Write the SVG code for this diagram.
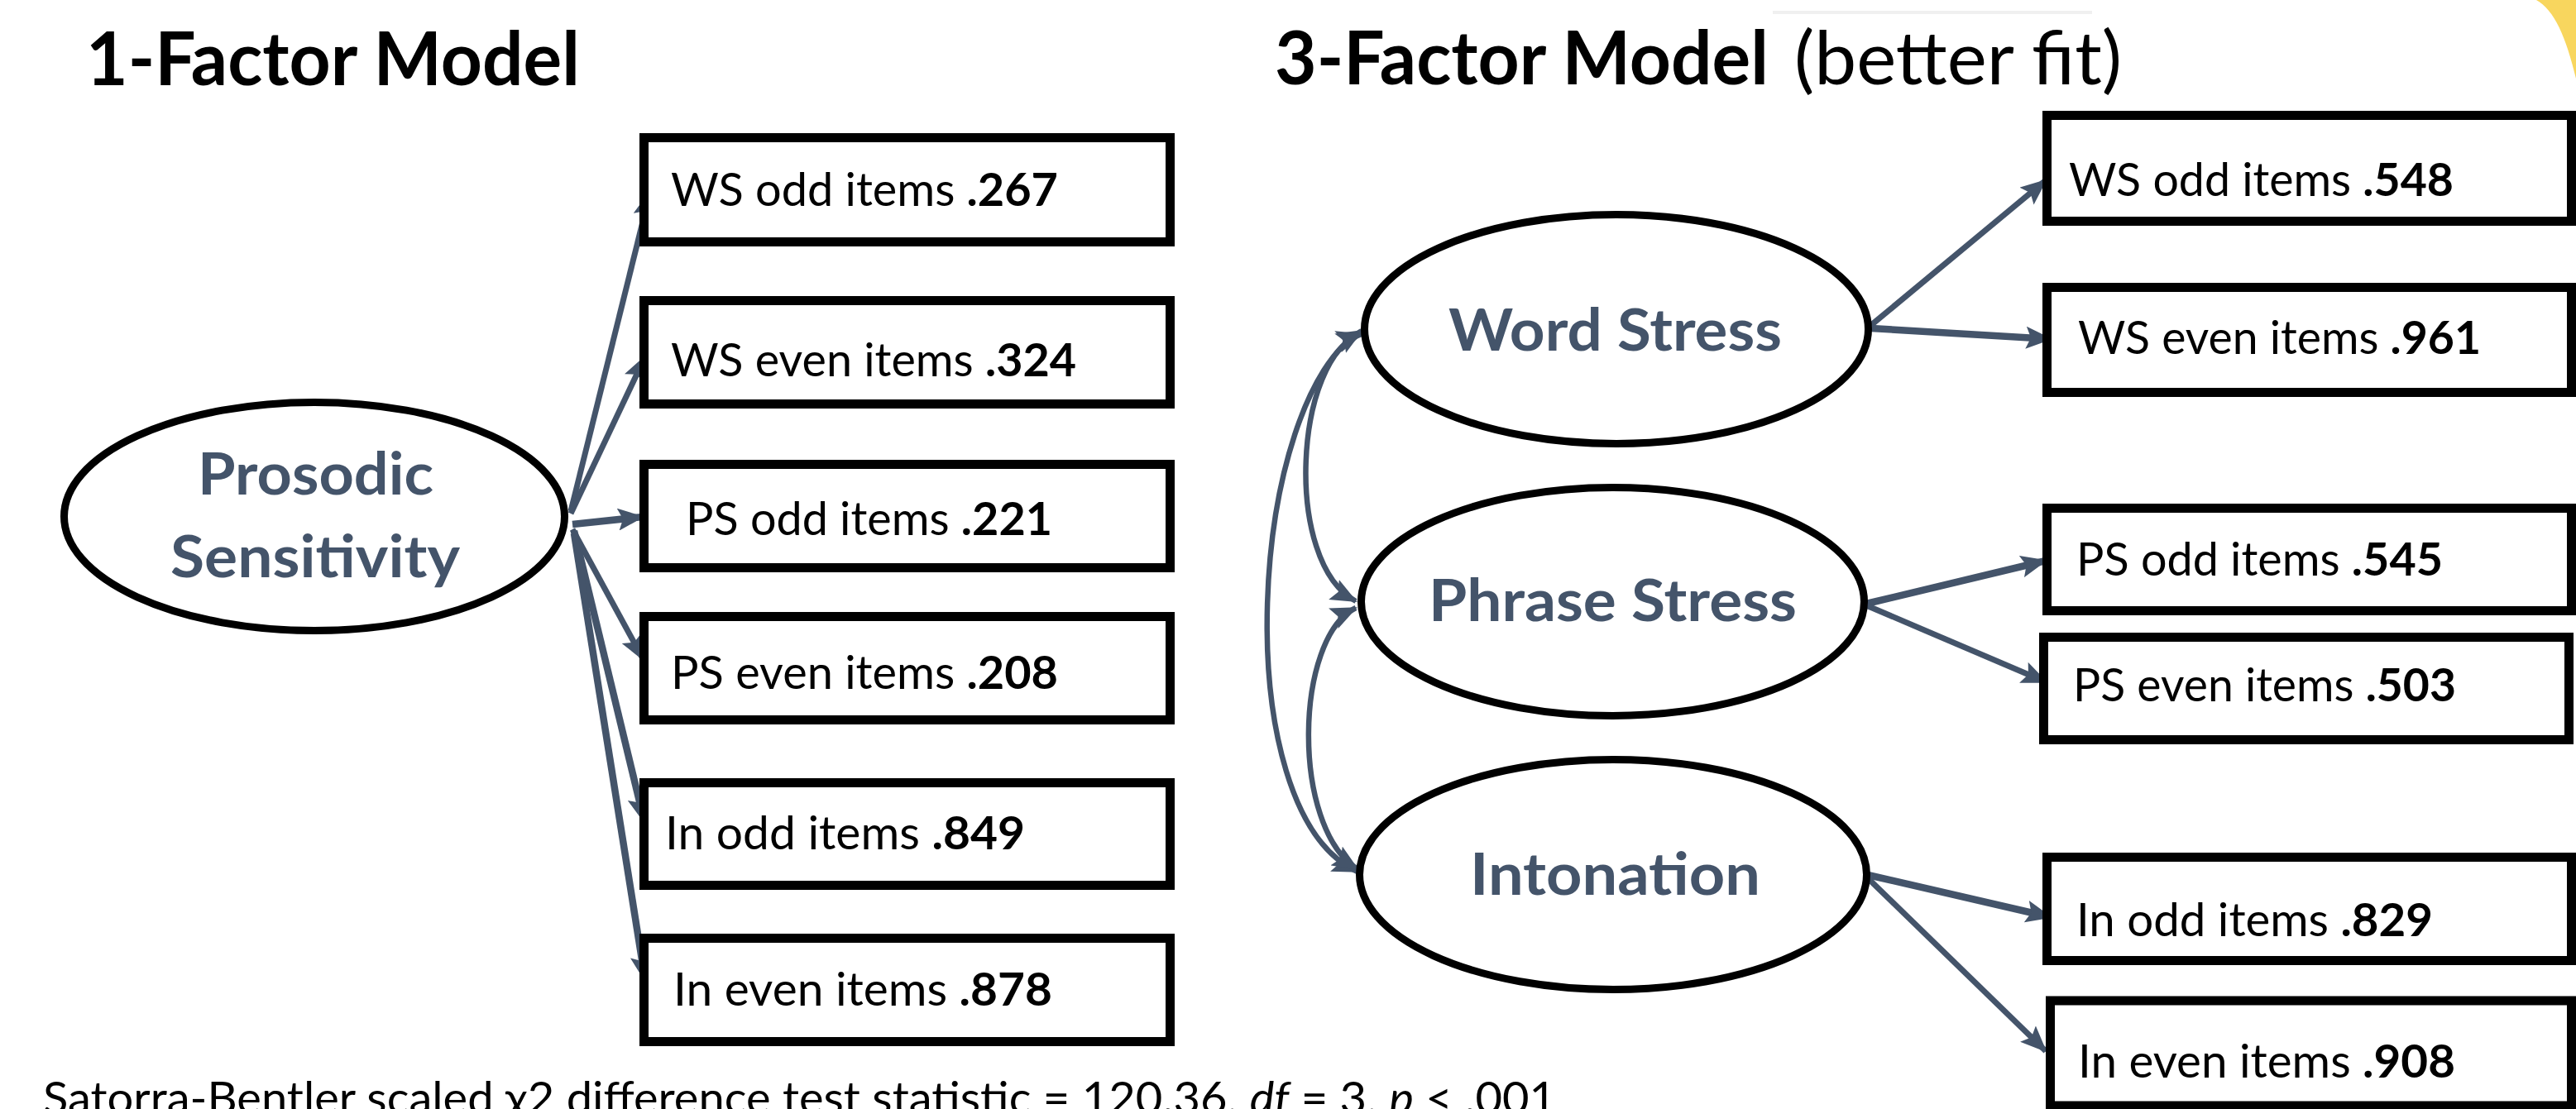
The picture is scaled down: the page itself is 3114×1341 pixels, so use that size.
<svg xmlns="http://www.w3.org/2000/svg" width="3114" height="1341" viewBox="0 0 3114 1341">
  <style>
    .title { font-family: Lato, "Liberation Sans", sans-serif; font-size: 89px; fill: #000; }
    .b { font-weight: bold; }
    .lat { font-family: Lato, "Liberation Sans", sans-serif; font-size: 71px; font-weight: bold; fill: #44546A; text-anchor: start; }
    .item { font-family: Lato, "Liberation Sans", sans-serif; font-size: 56px; fill: #000; }
    .note { font-family: Lato, "Liberation Sans", sans-serif; font-size: 55px; fill: #000; }
    .box { fill: #fff; stroke: #000; stroke-width: 11; }
    .ell { fill: #fff; stroke: #000; stroke-width: 9; }
    .arr { fill: none; stroke: #44546A; stroke-width: 7; marker-end: url(#ah); }
    .thick { stroke-width: 8.5; }
    .cov { fill: none; stroke: #44546A; stroke-width: 6.5; marker-end: url(#ah); marker-start: url(#ah); }
  </style>
  <defs>
    <marker id="ah" markerUnits="userSpaceOnUse" markerWidth="32" markerHeight="27" refX="30" refY="13.5" orient="auto-start-reverse" viewBox="0 0 32 27">
      <path d="M0,0 L32,13.5 L0,27 L6,13.5 Z" fill="#44546A"/>
    </marker>
  </defs>
  <rect x="0" y="0" width="3114" height="1341" fill="#fff"/>
  <path d="M3066 0 C3088 12 3102 45 3114 95 L3114 0 Z" fill="#F8D65E"/>
  <line x1="2143" y1="15" x2="2529" y2="15" stroke="#f0f0f0" stroke-width="4"/>

  <text class="title b" x="104" y="103" textLength="597" lengthAdjust="spacingAndGlyphs">1-Factor Model</text>
  <text class="title b" x="1541" y="102" textLength="597" lengthAdjust="spacingAndGlyphs">3-Factor Model</text>
  <text class="title" x="2169" y="102" textLength="396" lengthAdjust="spacingAndGlyphs">(better fit)</text>

  <g id="connectors">
    <line class="arr" x1="690" y1="618" x2="786" y2="232"/>
    <line class="arr" x1="690" y1="621" x2="780" y2="431"/>
    <line class="arr thick" x1="692" y1="634" x2="777" y2="625"/>
    <line class="arr" x1="692" y1="640" x2="778" y2="798"/>
    <line class="arr thick" x1="694" y1="642" x2="779" y2="994"/>
    <line class="arr thick" x1="694" y1="645" x2="780" y2="1186"/>

    <line class="arr" x1="2262" y1="393" x2="2473" y2="218"/>
    <line class="arr thick" x1="2262" y1="397" x2="2479" y2="410"/>
    <line class="arr thick" x1="2256" y1="730" x2="2473" y2="678"/>
    <line class="arr" x1="2256" y1="732" x2="2474" y2="825"/>
    <line class="arr thick" x1="2258" y1="1058" x2="2479" y2="1109"/>
    <line class="arr" x1="2258" y1="1062" x2="2473" y2="1271"/>

    <path class="cov" d="M1646 400 C1510 480 1480 980 1641 1054"/>
    <path class="cov" d="M1646 404 C1565 430 1550 680 1639 727"/>
    <path class="cov" d="M1639 735 C1565 770 1560 1000 1641 1051"/>
  </g>

  <g id="prosodic-sensitivity">
    <ellipse class="ell" cx="380" cy="624.5" rx="302.5" ry="138"/>
    <text class="lat" x="239" y="598" textLength="285" lengthAdjust="spacingAndGlyphs">Prosodic</text>
    <text class="lat" x="206" y="698" textLength="350" lengthAdjust="spacingAndGlyphs">Sensitivity</text>
  </g>

  <g id="l-ws-odd">
    <rect class="box" x="778.5" y="166.5" width="636" height="126"/>
    <text class="item" x="811" y="249" textLength="468" lengthAdjust="spacingAndGlyphs">WS odd items <tspan class="b">.267</tspan></text>
  </g>
  <g id="l-ws-even">
    <rect class="box" x="778.5" y="363.5" width="636" height="125"/>
    <text class="item" x="811" y="455" textLength="490" lengthAdjust="spacingAndGlyphs">WS even items <tspan class="b">.324</tspan></text>
  </g>
  <g id="l-ps-odd">
    <rect class="box" x="778.5" y="561.5" width="636" height="125"/>
    <text class="item" x="829" y="647" textLength="443" lengthAdjust="spacingAndGlyphs">PS odd items <tspan class="b">.221</tspan></text>
  </g>
  <g id="l-ps-even">
    <rect class="box" x="778.5" y="745.5" width="636" height="125"/>
    <text class="item" x="811" y="833" textLength="468" lengthAdjust="spacingAndGlyphs">PS even items <tspan class="b">.208</tspan></text>
  </g>
  <g id="l-in-odd">
    <rect class="box" x="778.5" y="946.5" width="636" height="124"/>
    <text class="item" x="804" y="1027" textLength="435" lengthAdjust="spacingAndGlyphs">In odd items <tspan class="b">.849</tspan></text>
  </g>
  <g id="l-in-even">
    <rect class="box" x="778.5" y="1134.5" width="636" height="125"/>
    <text class="item" x="814" y="1216" textLength="458" lengthAdjust="spacingAndGlyphs">In even items <tspan class="b">.878</tspan></text>
  </g>

  <g id="word-stress">
    <ellipse class="ell" cx="1954" cy="398" rx="304.5" ry="138.5"/>
    <text class="lat" x="1751" y="424" textLength="403" lengthAdjust="spacingAndGlyphs">Word Stress</text>
  </g>
  <g id="phrase-stress">
    <ellipse class="ell" cx="1949.5" cy="727.5" rx="304" ry="138"/>
    <text class="lat" x="1727" y="751" textLength="445" lengthAdjust="spacingAndGlyphs">Phrase Stress</text>
  </g>
  <g id="intonation">
    <ellipse class="ell" cx="1950" cy="1057.5" rx="306.5" ry="139"/>
    <text class="lat" x="1777" y="1082" textLength="351" lengthAdjust="spacingAndGlyphs">Intonation</text>
  </g>

  <g id="r-ws-odd">
    <rect class="box" x="2474.5" y="139.5" width="634" height="128"/>
    <text class="item" x="2501" y="237" textLength="465" lengthAdjust="spacingAndGlyphs">WS odd items <tspan class="b">.548</tspan></text>
  </g>
  <g id="r-ws-even">
    <rect class="box" x="2474.5" y="347.5" width="634" height="127"/>
    <text class="item" x="2512" y="428" textLength="487" lengthAdjust="spacingAndGlyphs">WS even items <tspan class="b">.961</tspan></text>
  </g>
  <g id="r-ps-odd">
    <rect class="box" x="2474.5" y="614.5" width="634" height="124"/>
    <text class="item" x="2510" y="696" textLength="443" lengthAdjust="spacingAndGlyphs">PS odd items <tspan class="b">.545</tspan></text>
  </g>
  <g id="r-ps-even">
    <rect class="box" x="2470.5" y="770.5" width="635" height="124"/>
    <text class="item" x="2506" y="848" textLength="463" lengthAdjust="spacingAndGlyphs">PS even items <tspan class="b">.503</tspan></text>
  </g>
  <g id="r-in-odd">
    <rect class="box" x="2474.5" y="1036.5" width="634" height="125"/>
    <text class="item" x="2510" y="1132" textLength="431" lengthAdjust="spacingAndGlyphs">In odd items <tspan class="b">.829</tspan></text>
  </g>
  <g id="r-in-even">
    <rect class="box" x="2478.5" y="1210" width="630" height="127"/>
    <text class="item" x="2512" y="1303" textLength="456" lengthAdjust="spacingAndGlyphs">In even items <tspan class="b">.908</tspan></text>
  </g>

  <text class="note" x="52" y="1347" textLength="1829" lengthAdjust="spacingAndGlyphs">Satorra-Bentler scaled χ2 difference test statistic = 120.36, <tspan font-style="italic">df</tspan> = 3, <tspan font-style="italic">p</tspan> &lt; .001</text>
</svg>
